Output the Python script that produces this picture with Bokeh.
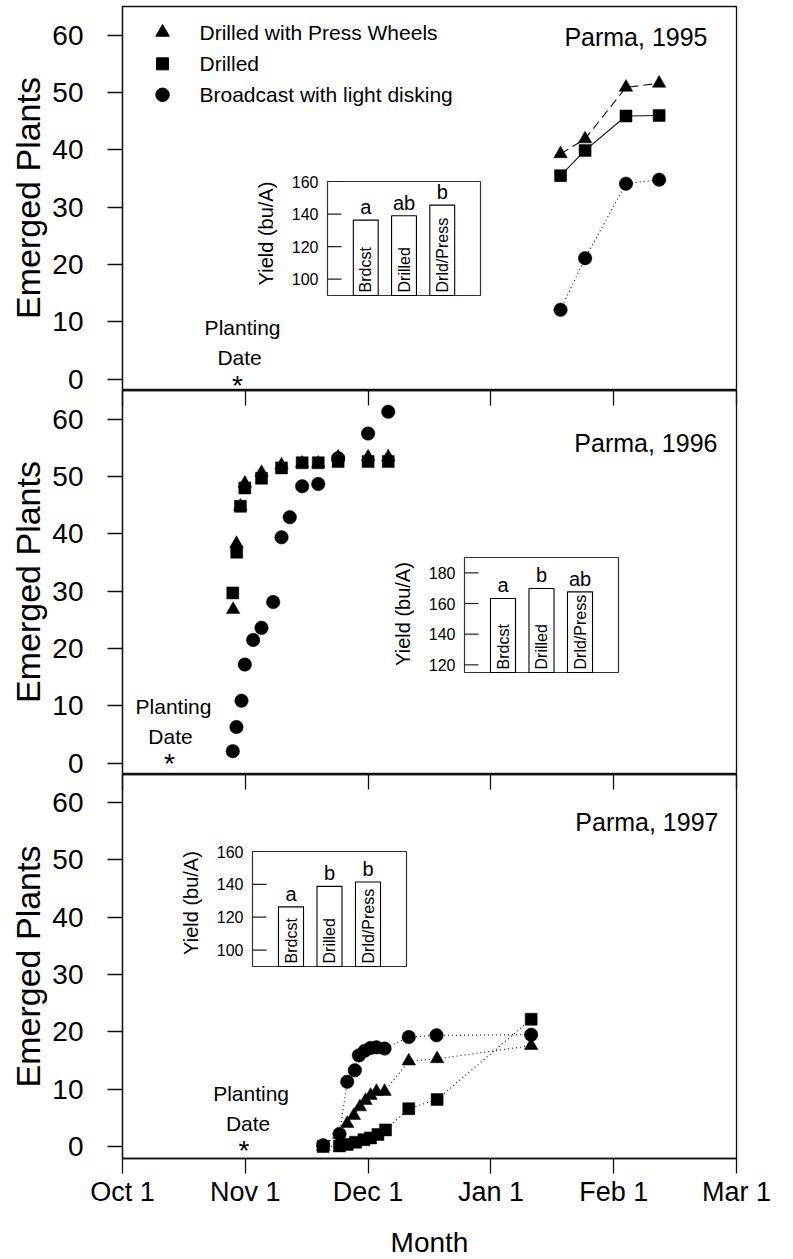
import math
from bokeh.plotting import figure
from bokeh.models import Range1d, LinearAxis, FixedTicker
from bokeh.layouts import column
from bokeh.embed import file_html
from bokeh.resources import INLINE
from bokeh.core.properties import value

FONT = "Liberation Sans"
INK = "#111111"
LW = 1.3

# ---------------- data ----------------
month_ticks = [0, 1, 2, 3, 4, 5]
month_labels = ["Oct 1", "Nov 1", "Dec 1", "Jan 1", "Feb 1", "Mar 1"]
y_ticks = [0, 10, 20, 30, 40, 50, 60]

legend_names = ["Drilled with Press Wheels", "Drilled", "Broadcast with light disking"]
bar_names = ["Brdcst", "Drilled", "Drld/Press"]

# x values are months after Oct 1
# Parma 1995
x95 = [3.567, 3.767, 4.10, 4.37]
press95 = [39.3, 41.9, 50.9, 51.6]
drilled95 = [35.5, 39.9, 45.9, 46.0]
broad95 = [12.1, 21.1, 34.1, 34.8]
yield95 = [136.3, 139.0, 145.5]
letters95 = ["a", "ab", "b"]
yticks95 = [100, 120, 140, 160]
plant95 = 0.937

# Parma 1996
xb96 = [0.898, 0.928, 0.969, 0.996, 1.064, 1.132, 1.227, 1.295, 1.362, 1.463, 1.594, 1.756, 2.0, 2.164]
broad96 = [2.1, 6.3, 10.9, 17.2, 21.5, 23.6, 28.1, 39.4, 42.9, 48.3, 48.7, 53.2, 57.5, 61.3]
xp96 = [0.901, 0.928, 0.96, 0.996, 1.132, 1.295, 1.463, 1.594, 1.756, 2.0, 2.164]
press96 = [26.8, 38.3, 44.8, 48.8, 50.7, 52.0, 52.3, 52.3, 53.4, 53.4, 53.4]
xd96 = [0.898, 0.93, 0.96, 0.996, 1.132, 1.295, 1.463, 1.594, 1.756, 2.0, 2.164]
drilled96 = [29.7, 36.8, 44.8, 48.0, 49.7, 51.5, 52.4, 52.4, 52.6, 52.6, 52.6]
yield96 = [163.3, 169.8, 167.6]
letters96 = ["a", "b", "ab"]
yticks96 = [120, 140, 160, 180]
plant96 = 0.383

# Parma 1997
xb97 = [1.634, 1.767, 1.83, 1.892, 1.925, 1.973, 2.02, 2.068, 2.134, 2.331, 2.557, 3.328]
broad97 = [0.2, 2.2, 11.3, 13.3, 15.9, 16.7, 17.2, 17.3, 17.1, 19.1, 19.4, 19.5]
xp97 = [1.634, 1.83, 1.884, 1.933, 1.979, 2.02, 2.068, 2.134, 2.331, 2.562, 3.328]
press97 = [0.0, 4.0, 5.4, 6.9, 8.0, 8.9, 9.6, 9.6, 14.9, 15.3, 17.6]
xd97 = [1.634, 1.767, 1.83, 1.898, 1.966, 2.02, 2.08, 2.142, 2.331, 2.562, 3.328]
drilled97 = [0.0, 0.1, 0.35, 0.75, 1.2, 1.5, 2.1, 2.9, 6.6, 8.2, 22.2]
yield97 = [126.3, 138.8, 141.4]
letters97 = ["a", "b", "b"]
yticks97 = [100, 120, 140, 160]
plant97 = 0.99

# ---------------- layout constants ----------------
FRAME_W = 614
TRI, SQ, CIR = 13.5, 12, 13.5


def style_axis(ax, tick_in, tick_out, size, standoff):
    ax.major_tick_in = tick_in
    ax.major_tick_out = tick_out
    ax.minor_tick_in = 0
    ax.minor_tick_out = 0
    ax.axis_line_color = INK
    ax.axis_line_width = LW
    ax.major_tick_line_color = INK
    ax.major_tick_line_width = LW
    ax.minor_tick_line_color = None
    ax.major_label_text_font = FONT
    ax.major_label_text_font_size = size
    ax.major_label_text_color = "black"
    ax.major_label_standoff = standoff


def make_panel(frame_h, y0, y1, top_axis, bottom_axis, border_top, border_bottom):
    p = figure(frame_width=FRAME_W, frame_height=frame_h,
               x_range=Range1d(0, 5), y_range=Range1d(y0, y1),
               output_backend="svg", toolbar_location=None,
               x_axis_location=None, y_axis_location="left",
               min_border_left=122, min_border_right=50,
               min_border_top=border_top, min_border_bottom=border_bottom)
    p.xgrid.visible = False
    p.ygrid.visible = False
    p.outline_line_color = INK
    p.outline_line_width = LW
    p.background_fill_color = "white"
    p.border_fill_color = "white"
    ya = p.yaxis[0]
    ya.ticker = FixedTicker(ticks=y_ticks)
    style_axis(ya, 0, 15, "28px", 24)
    ya.axis_label = "Emerged Plants"
    ya.axis_label_text_font = FONT
    ya.axis_label_text_font_size = "34px"
    ya.axis_label_text_font_style = "normal"
    ya.axis_label_text_color = "black"
    ya.axis_label_standoff = 2
    if top_axis:
        ta = LinearAxis(ticker=FixedTicker(ticks=month_ticks))
        style_axis(ta, 15, 0, "0px", 0)
        ta.major_label_text_color = None
        p.add_layout(ta, "above")
    if bottom_axis:
        ba = LinearAxis(ticker=FixedTicker(ticks=month_ticks))
        style_axis(ba, 0, 15, "27px", 3)
        ba.major_label_overrides = {float(t): l for t, l in zip(month_ticks, month_labels)}
        ba.axis_label = "Month"
        ba.axis_label_text_font = FONT
        ba.axis_label_text_font_size = "28px"
        ba.axis_label_text_font_style = "normal"
        ba.axis_label_text_color = "black"
        ba.axis_label_standoff = 17
        p.add_layout(ba, "below")
    return p


def series(p, xs, ys, marker, size, dash=None):
    if dash is not None:
        p.line(xs, ys, line_color=INK, line_width=1.1, line_dash=dash)
    p.scatter(xs, ys, marker=marker, size=size, fill_color="black", line_color="black", line_width=0.5)


def title(p, x, y, text):
    p.text(x=[x], y=[y], text=[text], text_font=value(FONT), text_font_size="25px",
           text_align="right", text_baseline="middle", text_color="black")


def planting(p, x, off_plant, off_date, star_dy, dx_plant, dx_date):
    common = dict(text_font=value(FONT), text_align="center", text_color="black",
                  text_baseline="middle")
    p.text(x=[x], y=[0], text=["Planting"], x_offset=dx_plant, y_offset=off_plant,
           text_font_size="21px", **common)
    p.text(x=[x], y=[0], text=["Date"], x_offset=dx_date, y_offset=off_date,
           text_font_size="21px", **common)
    p.text(x=[x], y=[0], text=["*"], y_offset=star_dy + 3.7, text_font_size="28px", **common)


def inset(p, name, frame_h, box, yr, ticks, vals, letters, label_dy=-4):
    left, top, w, h = box
    n = len(vals)
    span = n + 1
    ppx = w / span
    ppy = h / (yr[1] - yr[0])
    p.extra_x_ranges[name] = Range1d(-left / ppx, span + (FRAME_W - left - w) / ppx)
    p.extra_y_ranges[name] = Range1d(yr[0] - (frame_h - top - h) / ppy, yr[1] + top / ppy)
    kw = dict(x_range_name=name, y_range_name=name)
    xs = list(range(1, n + 1))
    p.quad(left=[0], right=[span], bottom=[yr[0]], top=[yr[1]], fill_color="white",
           line_color="#333333", line_width=1.2, **kw)
    p.vbar(x=xs, width=0.65, bottom=yr[0], top=vals, fill_color="white",
           line_color="black", line_width=1.1, **kw)
    p.segment(x0=[0] * len(ticks), x1=[14 / ppx] * len(ticks), y0=ticks, y1=ticks,
              line_color="#222222", line_width=1.2, **kw)
    p.text(x=[-9 / ppx] * len(ticks), y=ticks, text=[str(t) for t in ticks],
           text_font=value(FONT), text_font_size="16px", text_align="right",
           text_baseline="middle", text_color="black", **kw)
    p.text(x=[-62 / ppx], y=[(yr[0] + yr[1]) / 2], y_offset=label_dy, text=["Yield (bu/A)"],
           angle=math.pi / 2, text_font=value(FONT), text_font_size="20px",
           text_align="center", text_baseline="middle", text_color="black", **kw)
    p.text(x=xs, y=[yr[0]] * n, y_offset=-3, text=bar_names, angle=math.pi / 2,
           text_font=value(FONT), text_font_size="16px", text_align="left",
           text_baseline="middle", text_color="black", **kw)
    p.text(x=xs, y=vals, y_offset=-13, text=letters, text_font=value(FONT),
           text_font_size="20px", text_align="center", text_baseline="middle",
           text_color="black", **kw)


# ---------------- panel 1995 ----------------
p1 = make_panel(383, -1.80, 65.0, False, False, 6, 1)
inset(p1, "i95", 383, (205, 175, 153, 114), (90, 160), yticks95, yield95, letters95, -5)
series(p1, x95, press95, "triangle", TRI, "9 5")
series(p1, x95, drilled95, "square", SQ, "solid")
series(p1, x95, broad95, "circle", CIR, "1 3")
title(p1, 4.764, 59.6, "Parma, 1995")
planting(p1, plant95, -51.7, -21.2, 2.8, 5, 2)
leg_y = [60.5, 55.0, 49.6]
for yy, mk, sz in zip(leg_y, ["triangle", "square", "circle"], [TRI, SQ, CIR]):
    p1.scatter([0.326], [yy], marker=mk, size=sz, fill_color="black", line_color="black")
p1.text(x=[0.627] * 3, y=leg_y, text=legend_names, text_font=value(FONT), text_font_size="21px",
        text_align="left", text_baseline="middle", text_color="black")

# ---------------- panel 1996 ----------------
p2 = make_panel(383, -1.80, 65.0, True, False, 0, 1)
inset(p2, "i96", 383, (342, 167, 154, 115), (115, 190), yticks96, yield96, letters96, -1)
series(p2, xb96, broad96, "circle", CIR)
series(p2, xp96, press96, "triangle", TRI)
series(p2, xd96, drilled96, "square", SQ)
title(p2, 4.845, 55.8, "Parma, 1996")
planting(p2, plant96, -57, -27, -3.2, 4, 1)

# ---------------- panel 1997 ----------------
p3 = make_panel(384, -2.09, 64.9, True, True, 0, 100)
inset(p3, "i97", 384, (130, 77, 154, 115), (90, 160), yticks97, yield97, letters97, -6)
series(p3, xb97, broad97, "circle", CIR, "1 3")
series(p3, xp97, press97, "triangle", TRI, "1 3")
series(p3, xd97, drilled97, "square", SQ, "1 3")
title(p3, 4.853, 56.7, "Parma, 1997")
planting(p3, plant97, -53.5, -23.5, 0.7, 7, 4)

layout = column(p1, p2, p3, spacing=0)
open("out.html", "w").write(file_html(layout, INLINE))
